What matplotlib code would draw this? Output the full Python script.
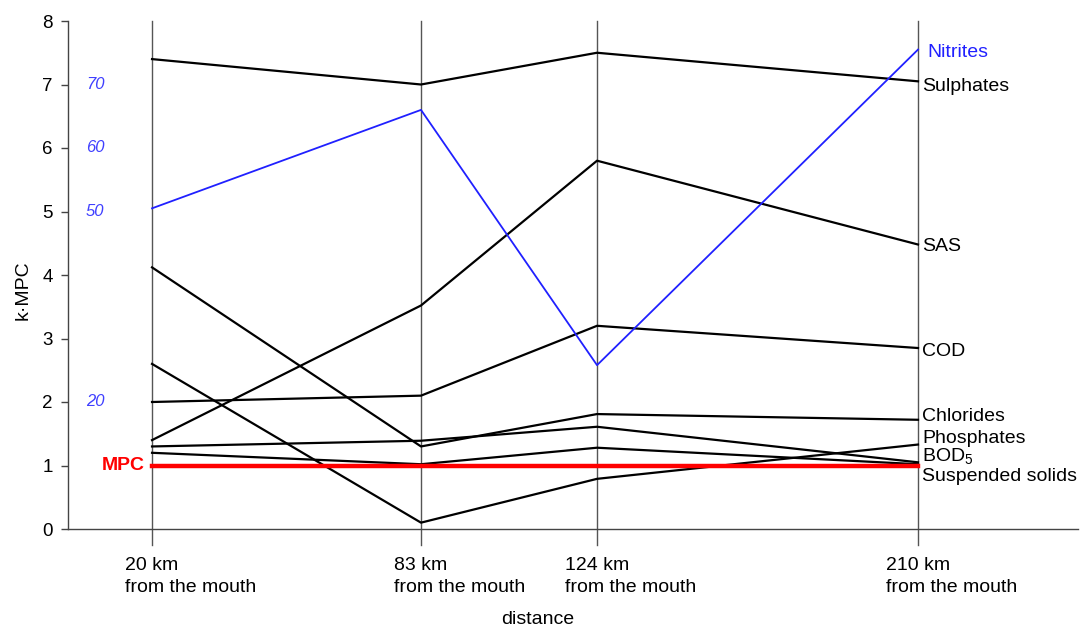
import numpy as np
import matplotlib
matplotlib.use("Agg")
import matplotlib.pyplot as plt

plt.rcParams['font.family'] = ['Liberation Sans', 'DejaVu Sans']
plt.rcParams['mathtext.default'] = 'regular'

# data
distances = ["20 km", "83 km", "124 km", "210 km"]
sulphates = [7.4, 7.0, 7.5, 7.05]
nitrites = [5.05, 6.6, 2.58, 7.55]
sas = [1.4, 3.52, 5.8, 4.48]
cod = [2.0, 2.1, 3.2, 2.85]
chlorides = [4.12, 1.3, 1.81, 1.72]
bod5 = [1.3, 1.39, 1.61, 1.05]
phosphates = [2.6, 0.1, 0.79, 1.33]
suspended = [1.2, 1.02, 1.28, 1.02]
mpc = 1.0

# secondary (nitrite) scale labels on the left
nitrite_scale = [70, 60, 50, 20]
nitrite_scale_at = [7, 6, 5, 2]

# end labels at the 210 km station
end_labels = ["Nitrites", "Sulphates", "SAS", "COD", "Chlorides",
              "Phosphates", "BOD$_5$", "Suspended solids"]
end_label_y = [7.5, 6.97, 4.45, 2.8, 1.77, 1.42, 1.15, 0.83]

# layout: x position of each distance in axis units
xpos = np.array([0.0832, 0.3495, 0.5238, 0.8416])

fig = plt.figure(figsize=(10.8, 6.29), dpi=100)
ax = fig.add_axes([68 / 1080, 100 / 629, 1010 / 1080, 508 / 629])
ax.set_xlim(0, 1)
ax.set_ylim(0, 8)

for sp in ["top", "right"]:
    ax.spines[sp].set_visible(False)
for sp in ["left", "bottom"]:
    ax.spines[sp].set_color("#444444")
    ax.spines[sp].set_linewidth(1.0)

# vertical guide lines at each station
for x in xpos:
    ax.plot([x, x], [-0.25, 8], color="#555555", lw=1.0, clip_on=False, zorder=1)

series = [sulphates, sas, cod, chlorides, bod5, phosphates, suspended]
for s in series:
    ax.plot(xpos, s, color="black", lw=1.6, zorder=3)
ax.plot(xpos, nitrites, color="#2020ff", lw=1.3, zorder=3)
ax.plot([xpos[0], xpos[-1]], [mpc, mpc], color="red", lw=3.2, zorder=4)

ax.text(xpos[0] - 0.007, mpc, "MPC", color="red", fontsize=14,
        fontweight="bold", ha="right", va="center")

for v, y in zip(nitrite_scale, nitrite_scale_at):
    ax.text(0.027, y, str(v), color="#4040ff", fontsize=12, style="italic",
            ha="center", va="center")

for lab, y in zip(end_labels, end_label_y):
    col = "#2020ff" if lab == "Nitrites" else "black"
    dx = 0.009 if lab == "Nitrites" else 0.004
    ax.text(xpos[-1] + dx, y, lab, color=col, fontsize=14, ha="left", va="center")

ax.set_yticks(range(0, 9))
ax.set_yticklabels([str(i) for i in range(0, 9)], fontsize=13.5)
ax.tick_params(axis="y", length=5, width=1, color="#444444", pad=6)
ax.set_xticks([])
ax.set_ylabel("k·MPC", fontsize=14)
ax.yaxis.set_label_coords(-0.036, 0.47)

# x labels: first line centred on station, second line left-aligned with it
fig.canvas.draw()
renderer = fig.canvas.get_renderer()
for x, d in zip(xpos, distances):
    t = ax.text(x, -0.65, d, fontsize=14, ha="center", va="baseline")
    bb = t.get_window_extent(renderer)
    x0 = ax.transData.inverted().transform((bb.x0, bb.y0))[0]
    ax.text(x0, -1.0, "from the mouth", fontsize=14, ha="left", va="baseline")

ax.text(0.465, -1.5, "distance", fontsize=14, ha="center", va="baseline")

fig.savefig("out.png", dpi=100)
